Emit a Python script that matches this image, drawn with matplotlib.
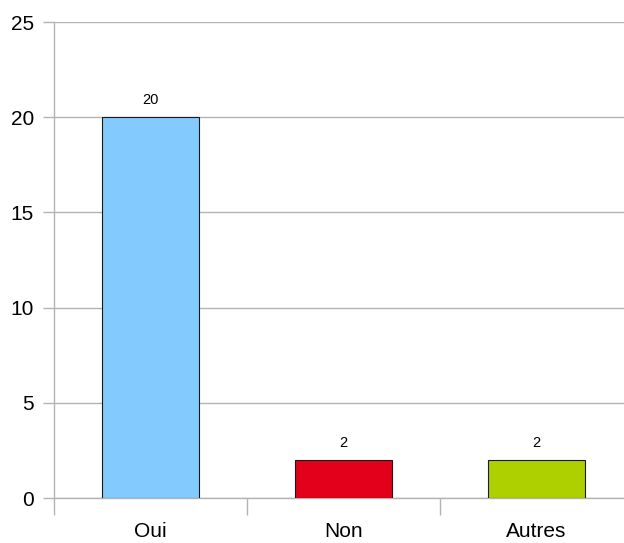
import matplotlib
matplotlib.use("Agg")
import matplotlib.pyplot as plt
from matplotlib.ticker import FixedLocator, NullFormatter, FixedFormatter

categories = ["Oui", "Non", "Autres"]
values = [20, 2, 2]
colors = ["#83CAFF", "#E2001A", "#AECF00"]
yticks = [0, 5, 10, 15, 20, 25]

plt.rcParams['font.family'] = ['Liberation Sans', 'DejaVu Sans']

fig = plt.figure(figsize=(6.24, 5.43), dpi=100)
ax = fig.add_axes([54/624, 45/543, 579/624, 476/543])

x = list(range(len(categories)))
bars = ax.bar(x, values, width=0.5, color=colors, edgecolor="#1a1a1a", linewidth=0.8, zorder=3)
for xi, v in zip(x, values):
    ax.annotate(str(v), (xi, v), xytext=(0, 7), textcoords="offset points",
                ha="center", va="bottom", fontsize=10.5, color="black")

ax.set_xlim(-0.5, len(categories) - 0.5)
ax.set_ylim(0, 25)
ax.set_yticks(yticks)
ax.yaxis.grid(True, color="#b3b3b3", linewidth=1.0, zorder=0)
ax.set_axisbelow(True)

ax.xaxis.set_major_locator(FixedLocator([i - 0.5 for i in range(len(categories) + 1)]))
ax.xaxis.set_major_formatter(NullFormatter())
ax.xaxis.set_minor_locator(FixedLocator(x))
ax.xaxis.set_minor_formatter(FixedFormatter(categories))
ax.tick_params(axis="x", which="major", length=12, color="#b3b3b3", width=1)
ax.tick_params(axis="x", which="minor", length=0, pad=17.5, labelsize=15)
ax.tick_params(axis="y", length=8, color="#b3b3b3", width=1, labelsize=15, pad=6.5)

for s in ["top", "right"]:
    ax.spines[s].set_visible(False)
for s in ["left", "bottom"]:
    ax.spines[s].set_color("#b3b3b3")
    ax.spines[s].set_linewidth(1)

fig.savefig("out.png", dpi=100)
